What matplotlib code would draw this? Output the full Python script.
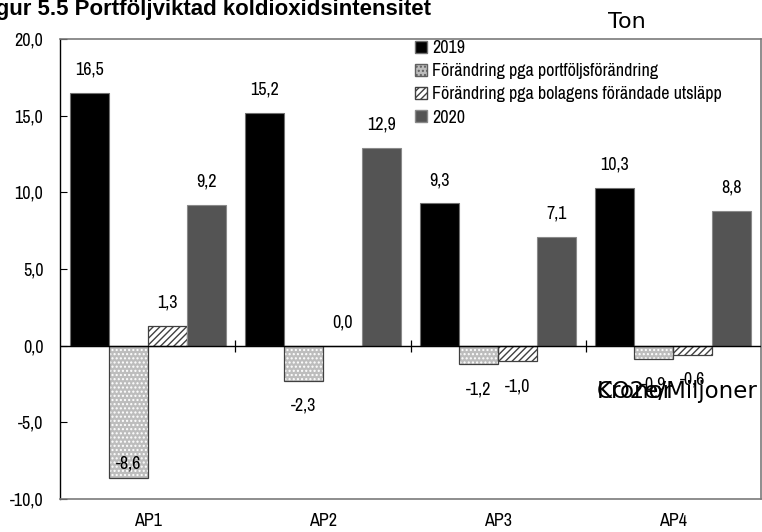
import matplotlib
matplotlib.use("Agg")
import matplotlib.pyplot as plt
from matplotlib.patches import Patch
from matplotlib import font_manager as fm
import numpy as np

categories = ["AP1", "AP2", "AP3", "AP4"]
series_names = ["2019", "Förändring pga portföljsförändring",
                "Förändring pga bolagens förändade utsläpp", "2020"]
v2019 = [16.5, 15.2, 9.3, 10.3]
v_portfolj = [-8.6, -2.3, -1.2, -0.9]
v_bolag = [1.3, 0.0, -1.0, -0.6]
v2020 = [9.2, 12.9, 7.1, 8.8]
y_ticks = [-10, -5, 0, 5, 10, 15, 20]

available = {f.name for f in fm.fontManager.ttflist}
narrow = next((n for n in ["Liberation Sans Narrow", "Arial Narrow", "Archivo Narrow",
                           "Roboto Condensed", "PT Sans Narrow"] if n in available), "DejaVu Sans")
NARROW = [narrow, "DejaVu Sans"]
plt.rcParams["font.family"] = NARROW
FS = 13

fig = plt.figure(figsize=(7.62, 5.32), dpi=100)
ax = fig.add_axes([60/762, 1-499/532, 701/762, (499-39)/532])

x = np.arange(len(categories))
w = 0.2225
offs = [-1.5*w, -0.5*w, 0.5*w, 1.5*w]

# 2019
ax.bar(x+offs[0], v2019, w, color="black", edgecolor="#707070", linewidth=0.8, zorder=2)
# portfolj: gray with white dots
ax.bar(x+offs[1], v_portfolj, w, color="#bdbdbd", edgecolor="white", hatch="....", linewidth=0, zorder=2)
ax.bar(x+offs[1], v_portfolj, w, fill=False, edgecolor="#404040", linewidth=0.9, zorder=3)
# bolag: white with diagonal stripes
ax.bar(x+offs[2], v_bolag, w, color="white", edgecolor="#404040", hatch="/////", linewidth=0.9, zorder=2)
# 2020
ax.bar(x+offs[3], v2020, w, color="#545454", edgecolor="#8a8a8a", linewidth=0.8, zorder=2)

ax.set_xlim(-0.5, len(categories)-0.5)
ax.set_ylim(-10, 20)

ax.axhline(0, color="black", linewidth=1.0, zorder=4)
ax.plot(x[:-1]+0.5, np.zeros(len(categories)-1), linestyle="none", marker="|",
        markersize=9, color="black", markeredgewidth=0.9, zorder=4)

ax.set_yticks(y_ticks)
ax.set_yticklabels([f"{t:.1f}".replace(".", ",") for t in y_ticks], fontsize=FS)
ax.tick_params(axis="y", direction="in", length=5, width=0.8, pad=12)
ax.set_xticks(x)
ax.set_xticklabels(categories, fontsize=FS)
ax.tick_params(axis="x", length=0, pad=10)

for s in ["top", "right", "bottom"]:
    ax.spines[s].set_color("#7a7a7a")
    ax.spines[s].set_linewidth(1.2)
ax.spines["left"].set_color("black")
ax.spines["left"].set_linewidth(1.0)

# data labels
ymin = ax.get_ylim()[0]
for vals, off in zip([v2019, v_portfolj, v_bolag, v2020], offs):
    for xi, v in zip(x, vals):
        txt = f"{v:.1f}".replace(".", ",")
        if v >= 0:
            dy = 16.5
        else:
            dy = -18
            if v - 2.0 < ymin:
                dy = 10
        ax.annotate(txt, (xi+off, v), xytext=(0, dy), textcoords="offset points",
                    ha="center", va="center", fontsize=FS, zorder=5)

handles = [
    Patch(facecolor="black", edgecolor="#707070"),
    Patch(facecolor="#bdbdbd", edgecolor="#606060", hatch="...."),
    Patch(facecolor="white", edgecolor="#404040", hatch="/////"),
    Patch(facecolor="#545454", edgecolor="#8a8a8a"),
]
leg = fig.legend(handles, series_names, loc="upper left", bbox_to_anchor=(415/762, 1-40/532),
                 frameon=False, fontsize=FS, handlelength=0.65, handleheight=0.65,
                 handletextpad=0.3, labelspacing=0.4, borderpad=0, borderaxespad=0)

fig.text(431/762, 1-15/532, "Figur 5.5 Portföljviktad koldioxidsintensitet",
         ha="right", va="baseline", fontsize=16, fontweight="bold",
         family=["Liberation Sans", "DejaVu Sans"])
fig.text(627/762, 1-28/532, "Ton", ha="center", va="baseline", fontsize=16,
         family=["DejaVu Sans"])
fig.text(597/762, 1-398/532, "CO2e/Miljoner", ha="left", va="baseline", fontsize=16.5,
         family=["DejaVu Sans"], zorder=6)
fig.text(597/762, 1-398/532, "Kronor", ha="left", va="baseline", fontsize=16.5,
         family=["DejaVu Sans"], zorder=6)

fig.savefig("out.png", dpi=100)
